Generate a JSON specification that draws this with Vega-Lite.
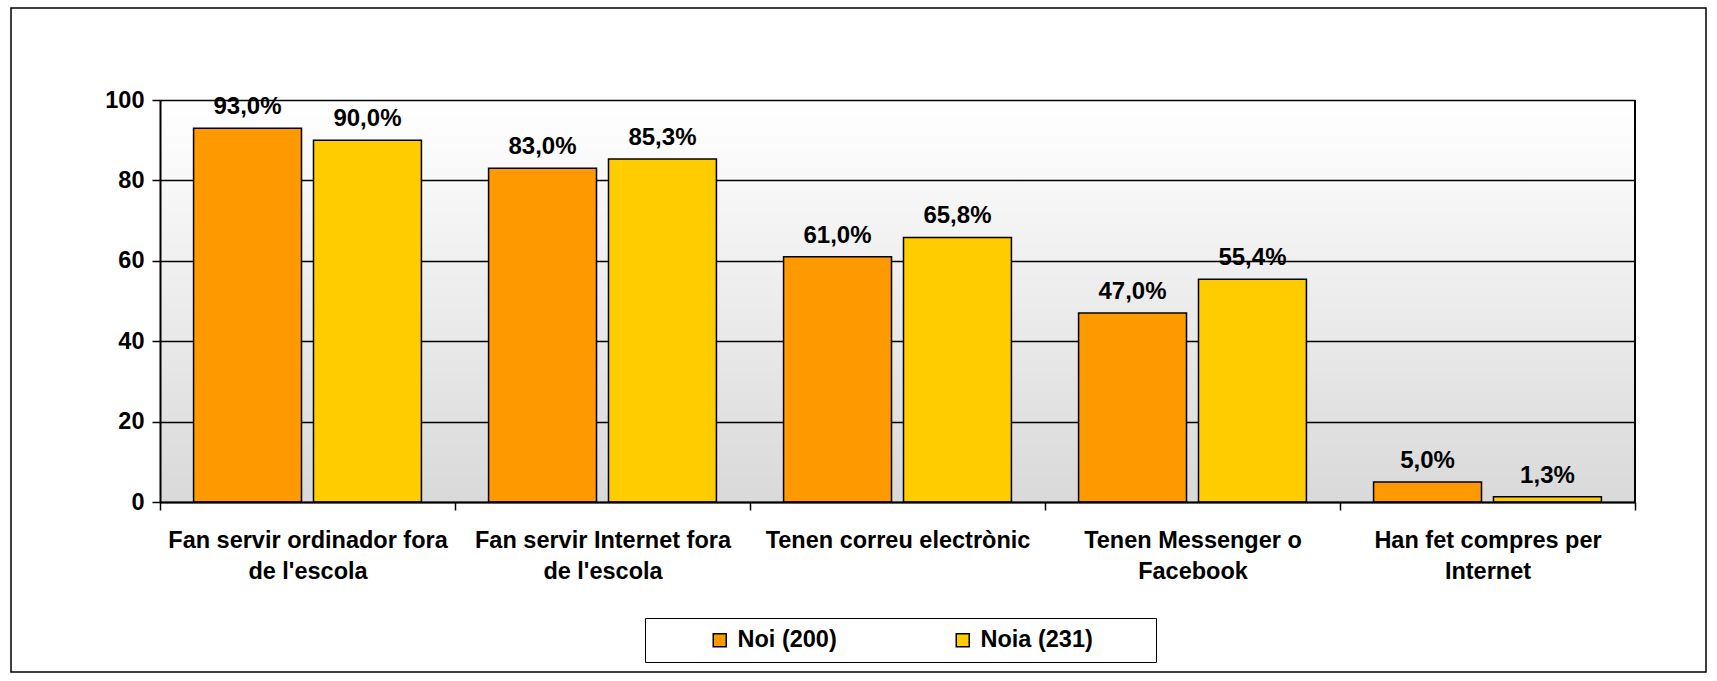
{
  "$schema": "https://vega.github.io/schema/vega-lite/v6.json",
  "width": 1695,
  "height": 664,
  "autosize": {"type": "none"},
  "padding": {"left": 11, "top": 8, "right": 11, "bottom": 9},
  "background": "white",
  "config": {
    "view": {"stroke": "black", "strokeWidth": 1.5, "fill": "white"},
    "font": "Liberation Sans",
    "axis": {
      "labelFont": "Liberation Sans",
      "labelFontSize": 23.5,
      "labelFontWeight": "bold",
      "labelColor": "black",
      "domainColor": "black",
      "domainWidth": 2,
      "tickColor": "black",
      "tickWidth": 1.5,
      "tickSize": 8,
      "gridColor": "black",
      "gridWidth": 1.5,
      "gridOpacity": 1,
      "title": null
    }
  },
  "data": {
    "values": [
      {"cat": "Fan servir ordinador fora\nde l'escola", "grup": "Noi (200)", "valor": 93.0},
      {"cat": "Fan servir ordinador fora\nde l'escola", "grup": "Noia (231)", "valor": 90.0},
      {"cat": "Fan servir Internet fora\nde l'escola", "grup": "Noi (200)", "valor": 83.0},
      {"cat": "Fan servir Internet fora\nde l'escola", "grup": "Noia (231)", "valor": 85.3},
      {"cat": "Tenen correu electrònic", "grup": "Noi (200)", "valor": 61.0},
      {"cat": "Tenen correu electrònic", "grup": "Noia (231)", "valor": 65.8},
      {"cat": "Tenen Messenger o\nFacebook", "grup": "Noi (200)", "valor": 47.0},
      {"cat": "Tenen Messenger o\nFacebook", "grup": "Noia (231)", "valor": 55.4},
      {"cat": "Han fet compres per\nInternet", "grup": "Noi (200)", "valor": 5.0},
      {"cat": "Han fet compres per\nInternet", "grup": "Noia (231)", "valor": 1.3}
    ]
  },
  "layer": [
    {
      "transform": [{"aggregate": [{"op": "count", "as": "n"}], "groupby": ["cat"]}],
      "mark": {
        "type": "rect",
        "fill": {
          "gradient": "linear",
          "x1": 0, "y1": 0, "x2": 0, "y2": 1,
          "stops": [
            {"offset": 0, "color": "rgba(0,0,0,0)"},
            {"offset": 1, "color": "rgba(0,0,0,0.15)"}
          ]
        }
      },
      "encoding": {
        "x": {
          "field": "cat",
          "type": "nominal",
          "sort": null,
          "scale": {"range": [149, 1624], "paddingInner": 0, "paddingOuter": 0},
          "axis": {
            "orient": "bottom",
            "offset": -170,
            "tickBand": "extent",
            "labelAngle": 0,
            "labelPadding": 18,
            "labelLineHeight": 31,
            "labelLimit": 500,
            "labelOverlap": false,
            "labelExpr": "datum.value ? split(datum.value, '\\n') : ''",
            "grid": false
          }
        },
        "y": {
          "datum": 0,
          "type": "quantitative",
          "scale": {"domain": [0, 100], "range": [494, 92], "nice": false, "zero": true},
          "axis": {
            "orient": "left",
            "offset": -149,
            "values": [0, 20, 40, 60, 80, 100],
            "grid": true,
            "labelPadding": 8
          }
        },
        "y2": {"datum": 100}
      }
    },
    {
      "mark": {"type": "bar", "stroke": "black", "strokeWidth": 1.5},
      "encoding": {
        "x": {"field": "cat", "type": "nominal", "sort": null},
        "xOffset": {
          "field": "grup",
          "type": "nominal",
          "sort": null,
          "scale": {"paddingInner": 0.1, "paddingOuter": 0.28}
        },
        "y": {"field": "valor", "type": "quantitative"},
        "color": {
          "field": "grup",
          "type": "nominal",
          "sort": null,
          "scale": {"domain": ["Noi (200)", "Noia (231)"], "range": ["#ff9900", "#ffcc00"]},
          "legend": {
            "orient": "none",
            "legendX": 634,
            "legendY": 610,
            "direction": "horizontal",
            "title": null,
            "strokeColor": "black",
            "fillColor": "white",
            "padding": 10,
            "symbolType": "square",
            "symbolSize": 169,
            "symbolStrokeColor": "black",
            "symbolStrokeWidth": 1.5,
            "symbolOffset": 53,
            "labelFont": "Liberation Sans",
            "labelFontSize": 23.5,
            "labelFontWeight": "bold",
            "labelColor": "black",
            "labelOffset": 6,
            "labelLimit": 400,
            "labelExpr": "indexof(datum.label, 'Noia') >= 0 ? datum.label + '\u00a0\u00a0\u00a0\u00a0\u00a0\u00a0\u00a0\u00a0\u200b' : datum.label",
            "columnPadding": 61
          }
        }
      }
    },
    {
      "mark": {
        "type": "text",
        "font": "Liberation Sans",
        "fontSize": 24,
        "fontWeight": "bold",
        "color": "black",
        "baseline": "alphabetic",
        "dy": -14,
        "text": {"expr": "replace(format(datum.valor, '.1f'), '.', ',') + '%'"}
      },
      "encoding": {
        "x": {"field": "cat", "type": "nominal", "sort": null},
        "xOffset": {"field": "grup", "type": "nominal", "sort": null},
        "y": {"field": "valor", "type": "quantitative"}
      }
    },
    {
      "mark": {"type": "rule", "color": "black", "strokeWidth": 1.5},
      "encoding": {
        "x": {"datum": "Han fet compres per\nInternet", "type": "nominal", "bandPosition": 1},
        "y": {"datum": 0, "type": "quantitative"},
        "y2": {"datum": 100}
      }
    }
  ]
}
